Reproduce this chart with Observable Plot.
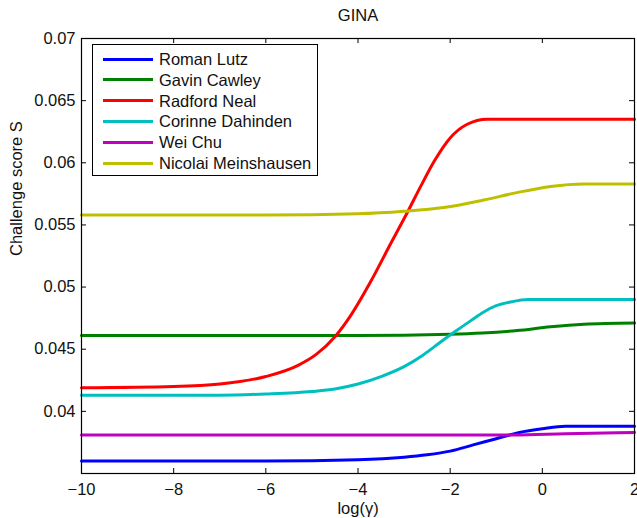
<!DOCTYPE html>
<html>
<head>
<meta charset="utf-8">
<script src="https://cdn.jsdelivr.net/npm/d3@7"></script>
<script src="https://cdn.jsdelivr.net/npm/@observablehq/plot@0.6"></script>
<style>
  html, body { margin: 0; padding: 0; background: #fff; }
  #wrap { position: relative; width: 637px; height: 518px; font-family: "Liberation Sans", Arial, Helvetica, sans-serif; }
  #legend { position: absolute; left: 92px; top: 44px; width: 224px; height: 130px; border: 1.5px solid #000; background: #fff; box-sizing: content-box; }
  .row { position: absolute; left: 0; height: 20px; display: flex; align-items: center; }
  .sw { position: absolute; left: 10px; width: 50px; height: 3px; }
  .lab { position: absolute; left: 66px; font-size: 16.5px; white-space: nowrap; line-height: 20px; top: -10px; color: #111; }
</style>
</head>
<body>
<div id="wrap"></div>
<script>
const title = "GINA";
const xLabel = "log(γ)";
const yLabel = "Challenge score S";
const seriesNames = ["Roman Lutz", "Gavin Cawley", "Radford Neal", "Corinne Dahinden", "Wei Chu", "Nicolai Meinshausen"];
const seriesColors = ["#0000ff", "#008000", "#ff0000", "#00bfbf", "#bf00bf", "#bfbf00"];
const xTicks = [-10, -8, -6, -4, -2, 0, 2];
const yTicks = [0.04, 0.045, 0.05, 0.055, 0.06, 0.065, 0.07];
const yTickLabels = ["0.04", "0.045", "0.05", "0.055", "0.06", "0.065", "0.07"];
const yTickMarks = [0.035, 0.04, 0.045, 0.05, 0.055, 0.06, 0.065, 0.07];

// Roman Lutz
const lutzX = [-10, -6, -4, -3, -2.5, -2.0, -1.5, -1.0, -0.5, 0, 0.5, 1.0, 2];
const lutzY = [0.0360, 0.0360, 0.0361, 0.0363, 0.0365, 0.0368, 0.0373, 0.0378, 0.0383, 0.0386, 0.0388, 0.0388, 0.0388];
// Gavin Cawley
const cawleyX = [-10, -6, -4, -2, -1.3, -0.55, 0.18, 0.9, 2];
const cawleyY = [0.0461, 0.0461, 0.0461, 0.0462, 0.0463, 0.0465, 0.0468, 0.0470, 0.0471];
// Radford Neal
const nealX = [-10, -8, -7, -6, -5.3, -4.9, -4.5, -4.16, -3.73, -3.29, -2.93, -2.64, -2.35, -2.0, -1.63, -1.2, -0.6, 0, 2];
const nealY = [0.0419, 0.0420, 0.0422, 0.0428, 0.0437, 0.0446, 0.0460, 0.0477, 0.0504, 0.0535, 0.0560, 0.0581, 0.0601, 0.0620, 0.0631, 0.0635, 0.0635, 0.0635, 0.0635];
// Corinne Dahinden
const dahindenX = [-10, -7, -6, -5, -4.5, -4.0, -3.5, -3.0, -2.6, -2.2, -1.9, -1.55, -1.27, -1.0, -0.69, -0.3, 0.5, 2];
const dahindenY = [0.0413, 0.0413, 0.0414, 0.0416, 0.0418, 0.0422, 0.0428, 0.0436, 0.0445, 0.0456, 0.0464, 0.0473, 0.0480, 0.0485, 0.0488, 0.0490, 0.0490, 0.0490];
// Wei Chu
const chuX = [-10, -4, -2, -0.6, 0.5, 2];
const chuY = [0.0381, 0.0381, 0.0381, 0.0381, 0.0382, 0.0383];
// Nicolai Meinshausen
const meinshausenX = [-10, -6, -4, -3, -2.14, -1.27, -0.55, 0.18, 0.9, 2];
const meinshausenY = [0.0558, 0.0558, 0.0559, 0.0561, 0.0564, 0.0570, 0.0576, 0.0581, 0.0583, 0.0583];

const seriesXs = [lutzX, cawleyX, nealX, dahindenX, chuX, meinshausenX];
const seriesYs = [lutzY, cawleyY, nealY, dahindenY, chuY, meinshausenY];

const data = [];
seriesNames.forEach((name, i) => {
  seriesXs[i].forEach((x, j) => data.push({name, x, y: seriesYs[i][j]}));
});

const W = 637, H = 518;
const mL = 81, mR = 3, mT = 38, mB = 45;
const innerW = W - mL - mR, innerH = H - mT - mB;
const tickLen = 5;

const chart = Plot.plot({
  width: W,
  height: H,
  marginLeft: mL,
  marginRight: mR,
  marginTop: mT,
  marginBottom: mB,
  style: {fontFamily: '"Liberation Sans", Arial, Helvetica, sans-serif', fontSize: "16.5px", color: "#111", background: "#fff", overflow: "visible"},
  x: {domain: [-10, 2]},
  y: {domain: [0.035, 0.07]},
  color: {domain: seriesNames, range: seriesColors},
  marks: [
    Plot.lineY(data, {x: "x", y: "y", z: "name", stroke: "name", strokeWidth: 3, curve: "monotone-x"}),
    Plot.frame({stroke: "#000", strokeWidth: 1.2}),
    Plot.tickX(xTicks, {x: d => d, insetTop: innerH - tickLen, stroke: "#000"}),
    Plot.tickX(xTicks, {x: d => d, insetBottom: innerH - tickLen, stroke: "#000"}),
    Plot.tickY(yTickMarks, {y: d => d, insetRight: innerW - tickLen, stroke: "#000"}),
    Plot.tickY(yTickMarks, {y: d => d, insetLeft: innerW - tickLen, stroke: "#000"}),
    Plot.axisX(xTicks, {anchor: "bottom", tickSize: 0, tickPadding: 10, label: null, fontSize: 16.5}),
    Plot.axisY(yTicks, {anchor: "left", tickSize: 0, tickPadding: 6, label: null, fontSize: 16.5, tickFormat: d => yTickLabels[yTicks.indexOf(d)]}),
    Plot.text([title], {frameAnchor: "top", dy: -23, fontSize: 16.5, lineAnchor: "middle"}),
    Plot.text([xLabel], {frameAnchor: "bottom", dy: 35, fontSize: 16.5, lineAnchor: "middle"}),
    Plot.text([yLabel], {frameAnchor: "left", dx: -65, rotate: -90, fontSize: 16.5, lineAnchor: "middle"})
  ]
});

const wrap = document.getElementById("wrap");
wrap.appendChild(chart);
chart.style.position = "absolute";
chart.style.left = "0";
chart.style.top = "0";

const legend = document.createElement("div");
legend.id = "legend";
seriesNames.forEach((name, i) => {
  const row = document.createElement("div");
  row.className = "row";
  row.style.top = (14 + i * 20.8) + "px";
  const sw = document.createElement("div");
  sw.className = "sw";
  sw.style.background = seriesColors[i];
  sw.style.top = "-1.5px";
  const lab = document.createElement("div");
  lab.className = "lab";
  lab.textContent = name;
  row.appendChild(sw);
  row.appendChild(lab);
  legend.appendChild(row);
});
wrap.appendChild(legend);
</script>
</body>
</html>
